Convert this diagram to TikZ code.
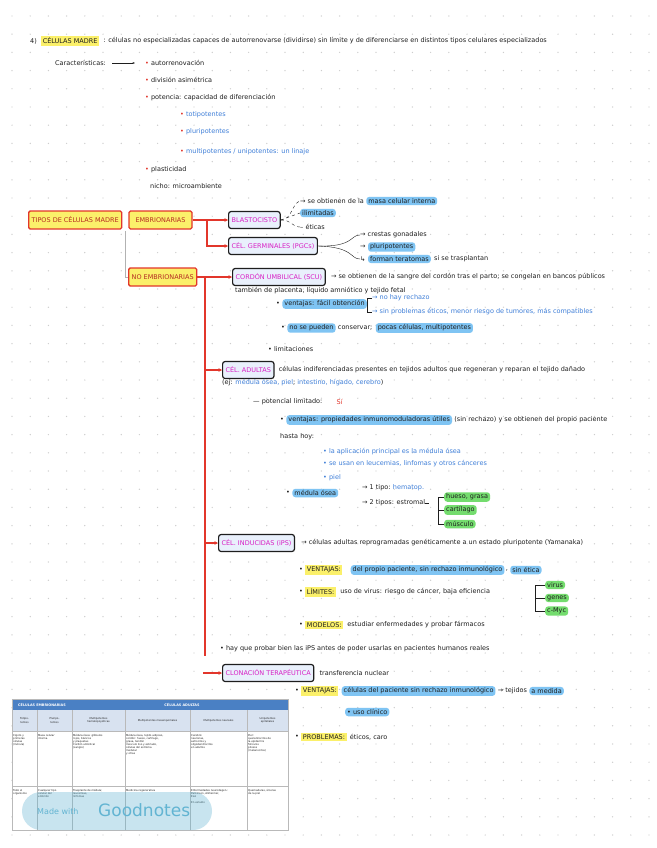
\documentclass[tikz,border=0pt]{standalone}
\usepackage{fontspec}
\setmainfont{DejaVu Sans}
\usetikzlibrary{arrows.meta,positioning,calc}
\definecolor{redline}{HTML}{E2362B}
\definecolor{hlyellow}{HTML}{FBF06A}
\definecolor{hlblue}{HTML}{7FC4F3}
\definecolor{hlgreen}{HTML}{74DC6E}
\definecolor{pinktext}{HTML}{D81FC4}
\definecolor{paleblue}{HTML}{E9F0FC}
\definecolor{inkblue}{HTML}{3F7FD8}
\definecolor{ink}{HTML}{1E1E1E}
\definecolor{tabhead}{HTML}{4A80C4}
\definecolor{tabsub}{HTML}{D8E2F0}
\definecolor{gridgray}{HTML}{CDCDCD}
\definecolor{wmblue}{HTML}{62B4D2}
\newcommand{\nf}{\fontsize{6.5}{7.5}\selectfont}
\newcommand{\tf}{\fontsize{2.6}{3.1}\selectfont}
\newcommand{\rb}{{\color{redline}•}}

\begin{document}
\begin{tikzpicture}[
    x=1pt,y=-1pt,
    node distance=3pt,
    note/.style={anchor=west,inner sep=0pt,font=\nf,text=ink},
    bluenote/.style={note,text=inkblue},
    hlb/.style={note,fill=hlblue,rounded corners=3pt,inner xsep=2pt,inner ysep=1.6pt},
    hly/.style={note,fill=hlyellow,inner xsep=1.5pt,inner ysep=1.6pt},
    hlg/.style={note,fill=hlgreen,rounded corners=3pt,inner xsep=2pt,inner ysep=1.6pt},
    yellowbox/.style={draw=redline,line width=1.3pt,fill=hlyellow,rounded corners=1.5pt,font=\nf,text=redline!80!black,inner xsep=3pt,minimum height=18pt},
    pinkbox/.style={draw=ink,line width=1.2pt,fill=paleblue,rounded corners=2.5pt,font=\nf,text=pinktext,inner xsep=3pt,minimum height=17pt},
    conn/.style={draw=redline,line width=1.1pt,-{Stealth[length=3.5pt,width=3.5pt]}},
    inkarrow/.style={draw=ink,line width=0.4pt,-{Stealth[length=2.5pt]}},
    inkl/.style={draw=ink,line width=0.4pt},
    tabcell/.style={anchor=north west,inner sep=1pt,font=\tf,align=left,text=ink},
    tabhd/.style={inner sep=0pt,font=\tf,align=center,text=ink}
]
\useasboundingbox (0,0) rectangle (656,848);
\fill[white] (0,0) rectangle (656,848);
% dot grid
\foreach \gx in {0,...,35} \foreach \gy in {0,...,46}
  \fill[gridgray] (12+18.2*\gx,16+18.2*\gy) circle (0.7);

% title
\node[note] (n4) at (30,41) {4)};
\node[hly,right=4pt of n4] (title) {CÉLULAS MADRE};
\node[note,right=4pt of title] (def) {: células no especializadas capaces de autorrenovarse (dividirse) sin límite y de diferenciarse en distintos tipos celulares especializados};

% caracteristicas
\node[note] (carac) at (55,63) {Características:};
\coordinate (cs) at (112,63);
\coordinate (ce) at (135,63);
\draw[inkarrow] (cs) -- (ce);
\node[note] (c1) at (145,63) {\rb\ autorrenovación};
\node[note] (c2) at (145,80) {\rb\ división asimétrica};
\node[note] (c3) at (145,98) {\rb\ potencia: capacidad de diferenciación};
\node[bluenote] (p1) at (180,115) {\rb\ totipotentes};
\node[bluenote] (p2) at (180,132) {\rb\ pluripotentes};
\node[bluenote] (p3) at (180,152) {\rb\ multipotentes / unipotentes: un linaje};
\node[note] (c4) at (145,170) {\rb\ plasticidad};
\node[note] (c5) at (150,186) {nicho: microambiente};

% tipos
\node[yellowbox,anchor=west] (yb1) at (28,220) {TIPOS DE CÉLULAS MADRE};
\node[yellowbox,right=6pt of yb1,minimum width=63pt] (yb2) {EMBRIONARIAS};
\node[yellowbox,anchor=west] (yb3) at (128,277) {NO EMBRIONARIAS};
\node[pinkbox,anchor=west] (pb1) at (228,220) {BLASTOCISTO};
\node[pinkbox,anchor=west] (pb2) at (228,246) {CÉL. GERMINALES (PGCs)};
\node[pinkbox,anchor=west] (pb3) at (232,277) {CORDÓN UMBILICAL (SCU)};
\node[pinkbox,anchor=west] (pb4) at (222,370) {CÉL. ADULTAS};
\node[pinkbox,anchor=west] (pb5) at (218,543) {CÉL. INDUCIDAS (iPS)};
\node[pinkbox,anchor=west] (pb6) at (222,673) {CLONACIÓN TERAPÉUTICA};

\coordinate (j1) at (207,220);
\coordinate (g0) at (125,231);
\coordinate (spinetop) at (205,277);
\coordinate (spinebot) at (205,656);
\coordinate (a4) at (205,370);
\coordinate (a5) at (205,543);
\coordinate (a6) at (203,673);
\draw[conn] (yb2.east) -- (pb1.west);
\draw[conn] (j1) |- (pb2.west);
\draw[gray!60,line width=0.5pt] (g0) |- (yb3.west);
\draw[conn] (yb3.east) -- (pb3.west);
\fill[redline] ($(spinetop)+(-0.8,0)$) rectangle ($(spinebot)+(0.8,0)$);
\draw[conn] (a4) -- (pb4.west);
\draw[conn] (a5) -- (pb5.west);
\draw[conn] (a6) -- (pb6.west);

% blastocisto
\node[note] (b1a) at (300,201) {→ se obtienen de la};
\node[hlb,right=2pt of b1a] (b1b) {masa celular interna};
\node[hlb] (b1c) at (300,213) {ilimitadas};
\node[note] (b1d) at (300,227) {– éticas};
\draw[inkl,dashed] (pb1.east) .. controls (292,220) and (292,203) .. (b1a.west);
\draw[inkl,dashed] (pb1.east) -- (b1c.west);
\draw[inkl,dashed] (pb1.east) .. controls (292,220) and (292,227) .. (b1d.west);

% germinales
\node[note] (b2a) at (360,235) {→ crestas gonadales};
\node[note] (b2b) at (360,247) {→};
\node[hlb,right=2pt of b2b] (b2c) {pluripotentes};
\node[note] (b2d) at (360,259) {↳};
\node[hlb,right=2pt of b2d] (b2e) {forman teratomas};
\node[note,right=3pt of b2e] (b2f) {si se trasplantan};
\draw[inkl] (b2a.west) .. controls (350,235) and (354,247) .. (pb2.east);
\draw[inkl] (b2d.west) .. controls (350,259) and (354,247) .. (pb2.east);

% cordon
\node[note,right=5pt of pb3] (t3a) {→ se obtienen de la sangre del cordón tras el parto; se congelan en bancos públicos};
\node[note] (t3b) at (235,291) {también de placenta, líquido amniótico y tejido fetal};
\node[note] (t3c) at (276,304) {•};
\node[hlb,right=2pt of t3c] (t3d) {ventajas: fácil obtención};
\node[bluenote] (t3e) at (372,298) {→ no hay rechazo};
\node[bluenote] (t3f) at (372,312) {→ sin problemas éticos, menor riesgo de tumores, más compatibles};
\draw[inkl] (t3e.west) -- ++(-5,0) |- (t3f.west);
\node[note] (t3g) at (281,328) {•};
\node[hlb,right=2pt of t3g] (t3h) {no se pueden};
\node[note,right=2pt of t3h] (t3i) {conservar;};
\node[hlb,right=3pt of t3i] (t3j) {pocas células, multipotentes};
\node[note] (t3k) at (268,349) {• limitaciones};

% adultas
\node[note,right=4pt of pb4] (t4a) {células indiferenciadas presentes en tejidos adultos que regeneran y reparan el tejido dañado};
\node[note] (t4b) at (222,383) {(ej: \textcolor{inkblue}{médula ósea, piel}; \textcolor{inkblue}{intestino, hígado, cerebro})};
\node[note] (t4c) at (253,402) {— potencial limitado:};
\node[note,text=redline,right=14pt of t4c] (t4d) {Sí};
\node[note] (t4e) at (280,420) {•};
\node[hlb,right=2pt of t4e] (t4f) {ventajas: propiedades inmunomoduladoras útiles};
\node[note,right=2pt of t4f] (t4g) {(sin rechazo) y se obtienen del propio paciente};
\node[note] (t4h) at (280,437) {hasta hoy:};
\node[bluenote] (t4i) at (323,452) {• la aplicación principal es la médula ósea};
\node[bluenote] (t4j) at (323,464) {• se usan en leucemias, linfomas y otros cánceres};
\node[bluenote] (t4k) at (323,478) {• piel};
\node[note] (t4l) at (286,493) {•};
\node[hlb,right=2pt of t4l] (t4m) {médula ósea};
\node[note] (t4n) at (362,488) {→ 1 tipo:};
\node[bluenote,right=2pt of t4n] (t4o) {hematop.};
\node[note] (t4p) at (362,503) {→ 2 tipos: estromal};
\node[hlg] (g1) at (444,497) {hueso, grasa};
\node[hlg] (g2) at (444,510) {cartílago};
\node[hlg] (g3) at (444,524) {músculo};
\draw[inkl] (g1.west) -- ++(-6,0) |- (g3.west);
\draw[inkl] (g2.west) -- ++(-6,0);
\draw[inkl] (t4p.east) -- ++(4,0);

% inducidas
\node[note,right=6pt of pb5] (t5a) {→ células adultas reprogramadas genéticamente a un estado pluripotente (Yamanaka)};
\node[note] (t5b) at (299,570) {•};
\node[hly,right=2pt of t5b] (t5c) {VENTAJAS:};
\node[hlb,right=8pt of t5c] (t5d) {del propio paciente, sin rechazo inmunológico};
\node[note,right=1pt of t5d] (t5e) {,};
\node[hlb,right=2pt of t5e] (t5f) {sin ética};
\node[note] (t5g) at (299,592) {•};
\node[hly,right=2pt of t5g] (t5h) {LÍMITES:};
\node[note,right=4pt of t5h] (t5i) {uso de virus: riesgo de cáncer, baja eficiencia};
\node[hlg] (g4) at (545,585) {virus};
\node[hlg] (g5) at (545,598) {genes};
\node[hlg] (g6) at (545,611) {c-Myc};
\draw[inkl] (g4.west) -- ++(-10,0) |- (g6.west);
\draw[inkl] (g5.west) -- ++(-10,0);
\node[note] (t5j) at (299,625) {•};
\node[hly,right=2pt of t5j] (t5k) {MODELOS:};
\node[note,right=4pt of t5k] (t5l) {estudiar enfermedades y probar fármacos};

% clonacion
\node[note] (t6a) at (220,649) {• hay que probar bien las iPS antes de poder usarlas en pacientes humanos reales};
\node[note,right=5pt of pb6] (t6b) {transferencia nuclear};
\node[note] (t6c) at (295,691) {•};
\node[hly,right=2pt of t6c] (t6d) {VENTAJAS:};
\node[hlb,right=3pt of t6d] (t6e) {células del paciente sin rechazo inmunológico};
\node[note,right=2pt of t6e] (t6f) {→ tejidos};
\node[hlb,right=2pt of t6f] (t6g) {a medida};
\node[hlb] (t6h) at (345,712) {• uso clínico};
\node[note] (t6i) at (295,737) {•};
\node[hly,right=2pt of t6i] (t6j) {PROBLEMAS:};
\node[note,right=3pt of t6j] (t6k) {éticos, caro};

% table
\fill[white] (12,699) rectangle (288,830);
\fill[tabhead] (12,699) rectangle (288,710);
\fill[tabsub] (12,710) rectangle (288,731);
\foreach \cx in {37,72,125,190,247}
  \draw[gray!55,line width=0.3pt] (\cx,710) -- (\cx,830);
\draw[gray!55,line width=0.3pt] (12,731) -- (288,731) (12,786) -- (288,786);
\draw[gray!55,line width=0.3pt] (12,699) rectangle (288,830);
\node[font=\fontsize{3.4}{4}\selectfont\bfseries,text=white] (th1) at (42,704.5) {CÉLULAS EMBRIONARIAS};
\node[font=\fontsize{3.4}{4}\selectfont\bfseries,text=white] (th2) at (182,704.5) {CÉLULAS ADULTAS};
\node[tabhd] (h0) at (24.5,720.5) {Totipo-\\tentes};
\node[tabhd] (h1) at (54.5,720.5) {Pluripo-\\tentes};
\node[tabhd] (h2) at (98.5,720.5) {Multipotentes\\hematopoyéticas};
\node[tabhd] (h3) at (157.5,720.5) {Multipotentes mesenquimales};
\node[tabhd] (h4) at (218.5,720.5) {Multipotentes neurales};
\node[tabhd] (h5) at (267.5,720.5) {Unipotentes\\epiteliales};
\node[tabcell] (r10) at (12,733) {Cigoto y\\primeras\\células\\(mórula)};
\node[tabcell] (r11) at (37,733) {Masa celular\\interna};
\node[tabcell] (r12) at (72,733) {Médula ósea: glóbulos\\rojos, blancos\\y plaquetas\\Cordón umbilical\\(sangre)};
\node[tabcell] (r13) at (125,733) {Médula ósea, tejido adiposo,\\cordón: hueso, cartílago,\\grasa, tendón\\músculo liso y estriado,\\células del estroma\\medular\\y otras};
\node[tabcell] (r14) at (190,733) {Cerebro:\\neuronas,\\astrocitos y\\oligodendrocitos\\en adultos};
\node[tabcell] (r15) at (247,733) {Piel:\\queratinocitos de\\la epidermis\\folículos\\pilosos\\(melanocitos)};
\node[tabcell] (r20) at (12,788) {Todo el\\organismo};
\node[tabcell] (r21) at (37,788) {Cualquier tipo\\celular del\\embrión};
\node[tabcell] (r22) at (72,788) {Trasplante de médula;\\leucemias,\\linfomas};
\node[tabcell] (r23) at (125,788) {Medicina regenerativa};
\node[tabcell] (r24) at (190,788) {Enfermedades neurodegen.:\\Parkinson, Alzheimer,\\ELA\\\\En estudio};
\node[tabcell] (r25) at (247,788) {Quemaduras, úlceras\\de la piel};

% watermark
\fill[wmblue,opacity=0.35,rounded corners=19pt] (22,792) rectangle (212,830);
\node[text=wmblue,font=\fontsize{8}{9}\selectfont,anchor=west,inner sep=0pt] (wm1) at (37,812) {Made with};
\node[text=wmblue,font=\fontsize{17}{18}\selectfont,anchor=west,inner sep=0pt] (wm2) at (98,810) {Goodnotes};
\end{tikzpicture}
\end{document}
